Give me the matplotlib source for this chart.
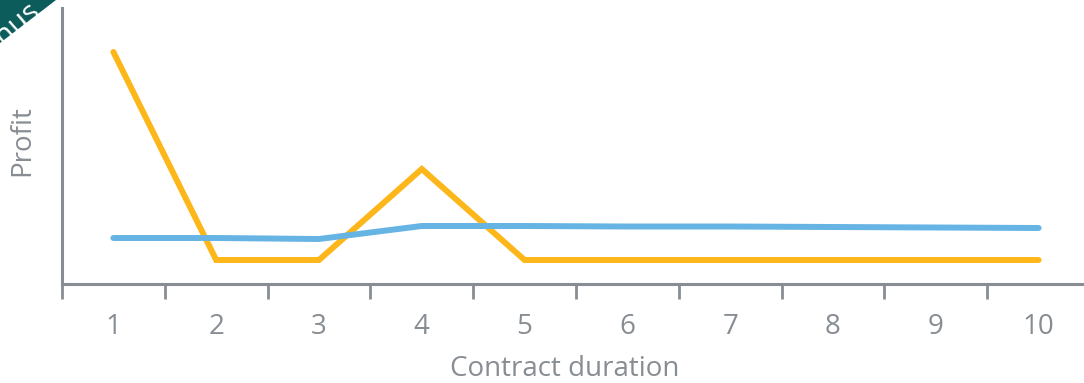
import matplotlib.pyplot as plt
from matplotlib.patches import Polygon

plt.rcParams['font.family'] = ['Open Sans', 'DejaVu Sans']

durations = [1, 2, 3, 4, 5, 6, 7, 8, 9, 10]
profit_orange = [232, 24, 24, 115, 24, 24, 24, 24, 24, 24]
profit_blue = [46, 46, 45, 58, 58, 57.5, 57.5, 57, 56.5, 56]

grey = '#878d93'

fig = plt.figure(figsize=(10.84, 3.83), dpi=100)
W, H = 1084, 383
ax = fig.add_axes([62 / W, 1 - 284 / H, 1028 / W, 276 / H])

ax.plot(durations, profit_orange, color='#fdb71a', lw=4.3, solid_capstyle='round', solid_joinstyle='miter')
ax.plot(durations, profit_blue, color='#66b4e3', lw=4.3, solid_capstyle='round')

ax.set_xlim(0.5, 10.5)
ax.set_ylim(0, 276)
ax.set_xticks([x + 0.5 for x in [0] + durations])
ax.set_xticklabels([])
ax.set_xticks(durations, minor=True)
ax.set_xticklabels([str(d) for d in durations], minor=True)
ax.tick_params(axis='x', which='major', direction='out', length=11, width=2, color=grey)
ax.tick_params(axis='x', which='minor', length=0, labelsize=20, labelcolor=grey, pad=21)
ax.set_yticks([])

for s in ['top', 'right']:
    ax.spines[s].set_visible(False)
for s in ['left', 'bottom']:
    ax.spines[s].set_color(grey)
    ax.spines[s].set_linewidth(2.2)

fig.text(565 / W, 1 - 369 / H, 'Contract duration', ha='center', va='center', fontsize=20, color=grey)
fig.text(22 / W, 1 - 141 / H, 'Profit', ha='center', va='center', rotation=90, fontsize=20, color=grey)

# corner badge
badge = Polygon([[0, 1], [56 / W, 1], [0, 1 - 43 / H]], closed=True,
                transform=fig.transFigure, facecolor='#0b5c5b', edgecolor='none')
fig.patches.append(badge)
t = fig.text(41 / W, 1 - 13 / H, 'Bonus', ha='right', va='baseline', rotation=41,
             rotation_mode='anchor', fontsize=21, color='white')
t.set_clip_path(badge)

fig.savefig('out.png', dpi=100)
